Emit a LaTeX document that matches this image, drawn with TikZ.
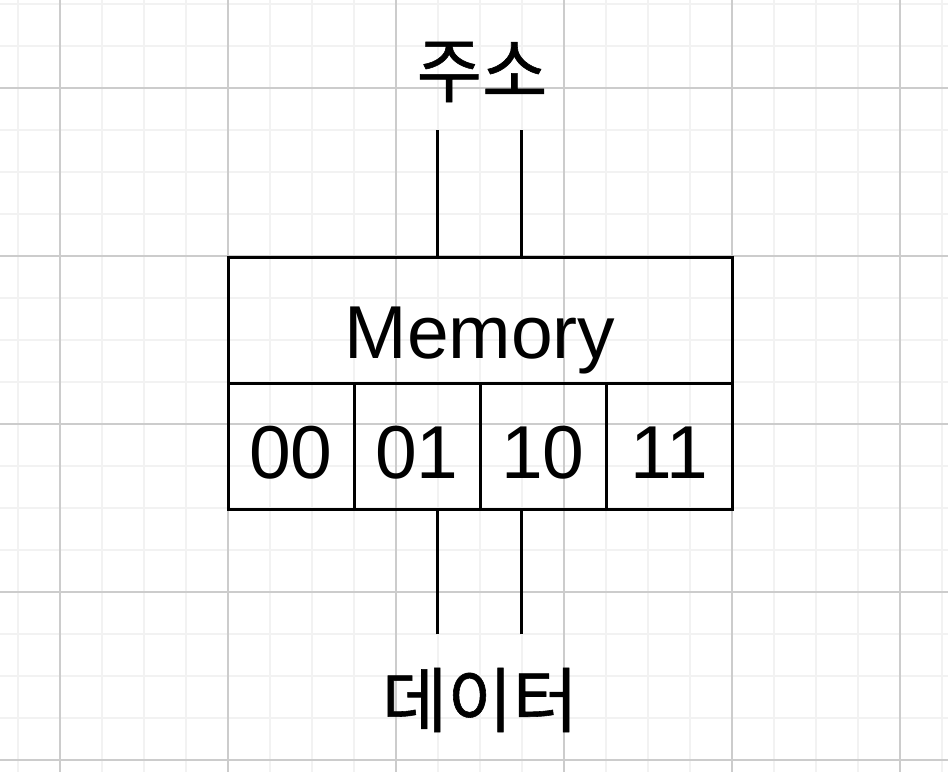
\documentclass[tikz,border=0pt]{standalone}
\usepackage{fontspec}
\setmainfont{Liberation Sans}
\newfontfamily\krfont[FakeBold=0.8]{Noto Sans CJK KR}
\tikzset{
  minorgrid/.style={draw=black!5, line width=1.5pt},
  majorgrid/.style={draw=black!20, line width=1.2pt},
  membox/.style={draw=black, line width=3pt, inner sep=0pt, outer sep=0pt,
    font=\fontsize{75}{90}\selectfont},
  cellbox/.style={membox, minimum width=126pt, minimum height=126pt,
    text height=64pt, text depth=0pt},
  wire/.style={draw=black, line width=3pt},
  klabel/.style={inner sep=0pt, font=\krfont\fontsize{71}{85}\selectfont}
}
\begin{document}
\begin{tikzpicture}[x=1pt,y=1pt]
\useasboundingbox (0,0) rectangle (948,-772);
% grid
\foreach \gx in {18,60,...,948} \draw[minorgrid] (\gx,0) -- (\gx,-772);
\foreach \gy in {4,46,...,772} \draw[minorgrid] (0,-\gy) -- (948,-\gy);
\foreach \gx in {60,228,...,948} \draw[majorgrid] (\gx,0) -- (\gx,-772);
\foreach \gy in {88,256,...,772} \draw[majorgrid] (0,-\gy) -- (948,-\gy);
% memory
\node[membox, minimum width=504pt, minimum height=126pt, text height=76pt, text depth=0pt] (mem) at (480,-320) {Memory};
\node[cellbox] (c0) at (291,-446) {00};
\node[cellbox] (c1) at (417,-446) {01};
\node[cellbox] (c2) at (543,-446) {10};
\node[cellbox] (c3) at (669,-446) {11};
% wires
\coordinate (a1) at (437,-130);
\coordinate (a2) at (521,-130);
\coordinate (d1) at (437,-634);
\coordinate (d2) at (521,-634);
\draw[wire] (a1) -- (a1 |- mem.north);
\draw[wire] (a2) -- (a2 |- mem.north);
\draw[wire] (d1) -- (d1 |- c1.south);
\draw[wire] (d2) -- (d2 |- c2.south);
% labels
\node[klabel] (addr) at (482,-72) {주소};
\node[klabel] (data) at (480,-700) {데이터};
\end{tikzpicture}
\end{document}
